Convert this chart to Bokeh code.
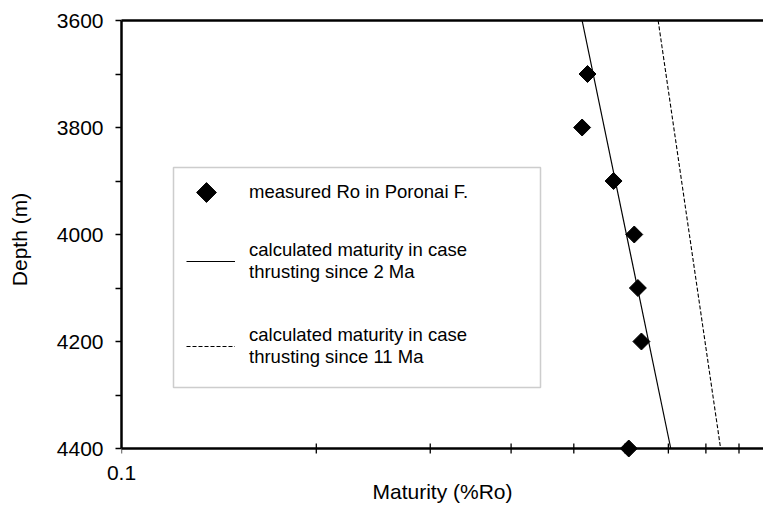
import math

from bokeh.embed import file_html
from bokeh.models import (BoxAnnotation, FixedTicker, Legend, LegendItem,
                          LinearAxis, LinearScale, Range1d, Span)
from bokeh.plotting import figure
from bokeh.resources import INLINE

# Vitrinite reflectance measured in the Poronai Formation
depth_measured = [3700, 3800, 3900, 4000, 4100, 4200, 4400]
ro_measured = [0.525, 0.515, 0.576, 0.620, 0.628, 0.636, 0.608]

# Modelled maturity profiles (top and base of the plotted interval)
depth_model = [3600, 4400]
ro_thrust_2ma = [0.515, 0.706]
ro_thrust_11ma = [0.675, 0.843]

# Axis ticks
depth_ticks = [3600, 3800, 4000, 4200, 4400]
depth_minor = [3700, 3900, 4100, 4300]
ro_ticks = [0.1]
ro_minor = [0.2, 0.3, 0.4, 0.5, 0.6, 0.7, 0.8, 0.9]

FONT = "Liberation Sans"

# Page geometry (pixels)
W, H = 763, 506
LEFT, TOP = 121, 20
DEPTH_PX = 428          # pixels between 3600 m and 4400 m
BASE_PAD = 10           # room under the 4400 m line so markers there stay whole
TICK_PX = 5
FRAME_W = W - LEFT
FRAME_H = DEPTH_PX + BASE_PAD
depth_top, depth_base = depth_ticks[0], depth_ticks[-1]
m_per_px = (depth_base - depth_top) / DEPTH_PX

p = figure(
    width=W, height=H,
    x_axis_type="log",
    x_range=Range1d(0.1, 0.982),
    y_range=Range1d(depth_base + BASE_PAD * m_per_px, depth_top),
    output_backend="svg",
    toolbar_location=None,
    min_border_left=LEFT, min_border_right=0,
    min_border_top=TOP, min_border_bottom=H - TOP - FRAME_H,
)
p.outline_line_color = None
p.grid.visible = False
p.background_fill_color = "white"
p.border_fill_color = "white"

# pixel-based ranges for the legend key
p.extra_x_ranges = {"px": Range1d(0, FRAME_W)}
p.extra_x_scales = {"px": LinearScale()}
p.extra_y_ranges = {"px": Range1d(0, FRAME_H)}
p.extra_y_scales = {"px": LinearScale()}

# Left (depth) axis
ya = p.yaxis[0]
ya.bounds = (depth_top, depth_base)
ya.ticker = FixedTicker(ticks=depth_ticks, minor_ticks=depth_minor)
ya.axis_label = "Depth (m)"
ya.axis_line_width = 2.5
ya.axis_line_color = "black"
ya.major_tick_out = 6
ya.major_tick_in = 0
ya.minor_tick_out = 6
ya.minor_tick_in = 0
ya.major_tick_line_width = 1.3
ya.minor_tick_line_width = 1.3
ya.major_label_standoff = 12
ya.major_label_text_font = FONT
ya.major_label_text_font_size = "21px"
ya.major_label_text_font_style = "normal"
ya.major_label_text_color = "black"
ya.axis_label_text_font = FONT
ya.axis_label_text_font_size = "21px"
ya.axis_label_text_font_style = "normal"
ya.axis_label_text_color = "black"
ya.axis_label_standoff = 23

# Bottom (maturity) axis: labels only; the axis line and ticks sit on 4400 m
xa = p.xaxis[0]
xa.ticker = FixedTicker(ticks=ro_ticks, minor_ticks=[])
xa.major_label_overrides = {0.1: "0.1"}
xa.axis_line_color = None
xa.major_tick_out = 0
xa.major_tick_in = 0
xa.minor_tick_out = 0
xa.minor_tick_in = 0
xa.major_label_standoff = 7
xa.major_label_text_font = FONT
xa.major_label_text_font_size = "21px"
xa.major_label_text_font_style = "normal"
xa.major_label_text_color = "black"
xa.axis_label = "Maturity (%Ro)"
xa.axis_label_text_font = FONT
xa.axis_label_text_font_size = "21px"
xa.axis_label_text_font_style = "normal"
xa.axis_label_text_color = "black"
xa.axis_label_standoff = -3

p.add_layout(Span(location=depth_base, dimension="width",
                  line_color="black", line_width=2.5))
tick_d = TICK_PX * m_per_px
p.segment(x0=ro_minor, x1=ro_minor,
          y0=[depth_base - tick_d] * len(ro_minor),
          y1=[depth_base + tick_d] * len(ro_minor),
          line_color="black", line_width=1.3)
p.segment(x0=ro_ticks, x1=ro_ticks,
          y0=[depth_base] * len(ro_ticks),
          y1=[depth_base + tick_d] * len(ro_ticks),
          line_color="black", line_width=1.3)

# Heavy top border of the frame
top = LinearAxis(ticker=FixedTicker(ticks=[]), axis_line_width=2.5,
                 major_tick_out=0, minor_tick_out=0,
                 major_label_text_font_size="0px")
p.add_layout(top, "above")

# Model curves and measurements
r_2ma = p.line(ro_thrust_2ma, depth_model, line_color="black", line_width=1.2)
r_11ma = p.line(ro_thrust_11ma, depth_model, line_color="black",
                line_width=1.1, line_dash="4 2")
r_meas = p.scatter(ro_measured, depth_measured, marker="square", size=12,
                   angle=math.pi / 4, fill_color="black", line_color="black")

# Legend frame (page pixels converted to frame-relative offsets)
BOX_L, BOX_R, BOX_T, BOX_B = 173, 540, 167, 387
fb = TOP + FRAME_H
p.add_layout(BoxAnnotation(left=BOX_L - LEFT, right=BOX_R - LEFT,
                           bottom=fb - BOX_B, top=fb - BOX_T,
                           left_units="screen", right_units="screen",
                           bottom_units="screen", top_units="screen",
                           fill_alpha=0,
                           line_color="#5a5a5a", line_width=1.5))

# Rotated-square key for the measurements
KEY_X, KEY_Y = 206, 192
p.scatter([KEY_X - LEFT], [fb - KEY_Y], x_range_name="px", y_range_name="px",
          marker="square", size=14, angle=math.pi / 4, level="overlay",
          fill_color="black", line_color="black")


def legend_entry(label, renderer, x, y_mid, glyph_w, glyph_h, standoff, label_h):
    return Legend(
        items=[LegendItem(label=label, renderers=[renderer])],
        location=(x - LEFT, fb - (y_mid + label_h / 2)),
        orientation="vertical",
        glyph_width=glyph_w, glyph_height=glyph_h,
        label_standoff=standoff, label_height=label_h,
        label_text_font=FONT, label_text_font_size="18.5px",
        label_text_color="black", label_text_line_height=1.1,
        padding=0, margin=0, spacing=0,
        border_line_color=None, background_fill_alpha=0,
    )


p.add_layout(legend_entry("measured Ro in Poronai F.", r_meas,
                          KEY_X, KEY_Y, 1, 35, 249 - KEY_X - 1, 35), "center")
p.add_layout(legend_entry("calculated maturity in case\nthrusting since 2 Ma",
                          r_2ma, 186, 262, 49, 42, 14, 42), "center")
p.add_layout(legend_entry("calculated maturity in case\nthrusting since 11 Ma",
                          r_11ma, 186, 347, 49, 42, 14, 42), "center")

open("out.html", "w").write(file_html(p, INLINE))
